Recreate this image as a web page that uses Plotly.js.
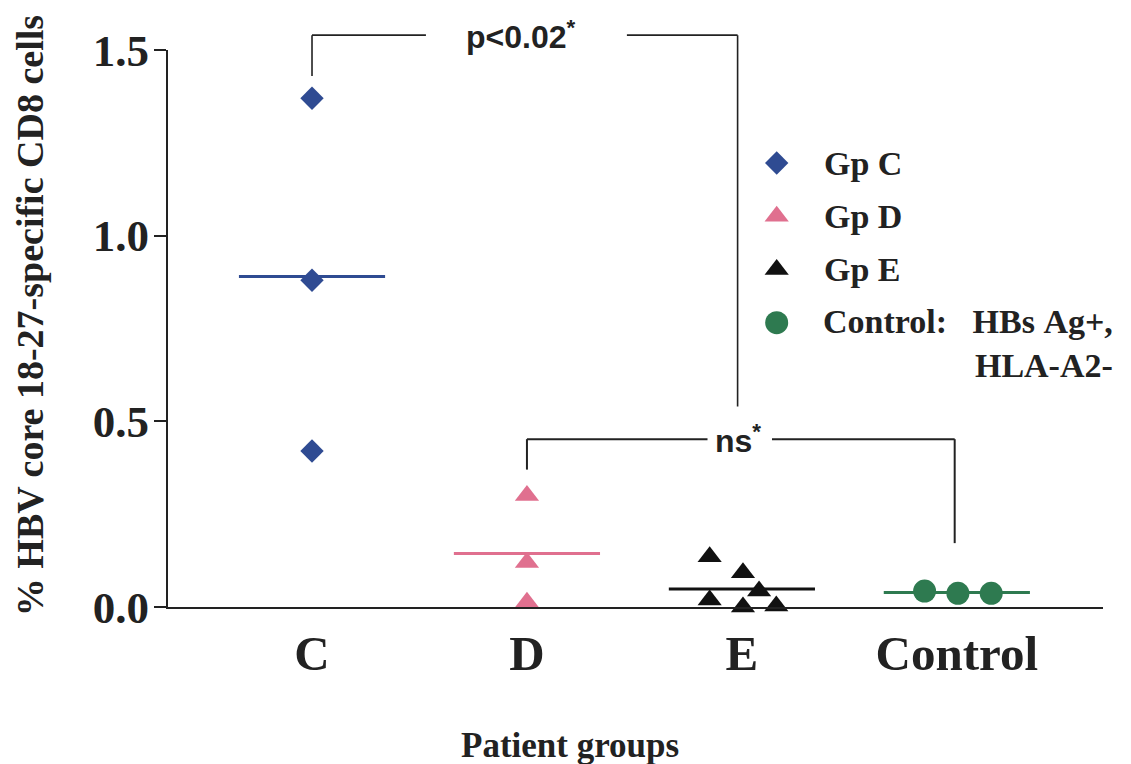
<!DOCTYPE html>
<html><head><meta charset="utf-8">
<script src="https://cdn.plot.ly/plotly-3.0.1.min.js"></script>
<style>html,body{margin:0;padding:0;background:#fff}#chart{width:1131px;height:764px}</style>
</head><body><div id="chart"></div>
<script>
// ---- data ----
const categories = ['C', 'D', 'E', 'Control'];
const legendNames = ['Gp&nbsp;C', 'Gp&nbsp;D', 'Gp&nbsp;E', 'Control:&nbsp;&nbsp; HBs&nbsp;Ag+,<br>HLA-A2-'];
const valuesC = [1.37, 0.88, 0.42];
const valuesD = [0.30, 0.12, 0.013];
const valuesE = [0.135, 0.092, 0.043, 0.019, 0.0, 0.003];
const valuesControl = [0.043, 0.037, 0.037];
// horizontal jitter of the dots within a group (category units)
const jitterC = [0, 0, 0];
const jitterD = [0, 0, 0];
const jitterE = [-0.15, 0.005, 0.08, -0.15, 0.005, 0.16];
const jitterControl = [-0.15, 0.005, 0.16];
const yTicks = [0, 0.5, 1.0, 1.5];
const yMax = 1.5;
const pTexts = ['p<0.02<sup>*</sup>', 'ns<sup>*</sup>'];

// ---- styles ----
const colors = ['#2F4B92', '#E0708F', '#111111', '#2E7A50'];
const symbols = ['diamond', 'triangle-up', 'triangle-up', 'circle'];
const sizes = [18, 21, 21, 23];
const halfWidth = 0.34;
const serif = 'Liberation Serif, Times New Roman, serif';
const sans = 'Liberation Sans, Arial, sans-serif';
const ink = '#222222';

const groups = [valuesC, valuesD, valuesE, valuesControl];
const jitters = [jitterC, jitterD, jitterE, jitterControl];
const mean = a => a.reduce((s, v) => s + v, 0) / a.length;

const traces = [];
groups.forEach((vals, i) => {
  const m = mean(vals);
  traces.push({
    x: [i - halfWidth, i + halfWidth], y: [m, m], mode: 'lines',
    line: {color: colors[i], width: 3}, showlegend: false, hoverinfo: 'skip'
  });
});
groups.forEach((vals, i) => {
  traces.push({
    x: vals.map((v, k) => i + jitters[i][k]), y: vals, mode: 'markers', name: categories[i],
    marker: {symbol: symbols[i], size: sizes[i], color: colors[i], opacity: 1, line: {width: 0}},
    cliponaxis: false, showlegend: false
  });
});
// legend keys on a hidden overlay subplot (row 0..3 top to bottom)
const legendRows = [0, 1, 2, 3];
legendRows.forEach(r => {
  traces.push({
    x: [0], y: [r], xaxis: 'x2', yaxis: 'y2', mode: 'markers',
    marker: {symbol: symbols[r], size: sizes[r], color: colors[r], opacity: 1, line: {width: 0}},
    cliponaxis: false, showlegend: false, hoverinfo: 'skip'
  });
});

// bracket helper
const yp = v => v / yMax;
function seg(x0, y0, x1, y1, w) {
  return {type: 'line', xref: 'x', yref: 'paper', x0: x0, x1: x1, y0: yp(y0), y1: yp(y1),
    line: {color: ink, width: w}};
}
const topY = 1.54, botY = 0.452;
const shapes = [
  seg(0, 1.43, 0, topY, 1.6),
  seg(0, topY, 0.53, topY, 1.6),
  seg(1.465, topY, 1.98, topY, 1.6),
  seg(1.98, topY, 1.98, 0.54, 1.6),
  seg(1.0, 0.37, 1.0, botY, 2),
  seg(1.0, botY, 1.84, botY, 2),
  seg(2.14, botY, 2.99, botY, 2),
  seg(2.99, botY, 2.99, 0.172, 2)
];

const legX = 0.6995;
const legTop = 0.797, legStep = 0.0955;
const legFont = {family: serif, size: 34, weight: 'bold', color: ink};
const annotations = [
  {text: pTexts[0], x: 0.97, xref: 'x', y: yp(topY), yref: 'paper', showarrow: false,
   font: {family: sans, size: 32, weight: 'bold', color: ink}, xanchor: 'center', yanchor: 'middle'},
  {text: pTexts[1], x: 1.98, xref: 'x', y: yp(botY), yref: 'paper', showarrow: false,
   font: {family: sans, size: 32, weight: 'bold', color: ink}, xanchor: 'center', yanchor: 'middle'},
  {text: '% HBV core 18-27-specific CD8 cells', x: -0.1476, y: 0.524, xref: 'paper', yref: 'paper',
   xanchor: 'center', yanchor: 'middle',
   textangle: -90, showarrow: false, font: {family: serif, size: 38, weight: 'bold', color: ink}},
  {text: 'Patient groups', x: 0.43, y: -0.2478, xref: 'paper', yref: 'paper', showarrow: false,
   xanchor: 'center', yanchor: 'middle',
   font: {family: serif, size: 35, weight: 'bold', color: ink}}
];
legendNames.forEach((n, i) => {
  if (i < 3) {
    annotations.push({text: n, x: legX, xanchor: 'left', y: legTop - legStep * i, yanchor: 'middle',
      xref: 'paper', yref: 'paper', showarrow: false, font: legFont});
  } else {
    annotations.push({text: n, x: 1.0128, xanchor: 'right', align: 'right',
      y: legTop - legStep * i + 0.0395, yanchor: 'top',
      xref: 'paper', yref: 'paper', showarrow: false, font: legFont});
  }
});

const layout = {
  width: 1131, height: 764,
  margin: {l: 168, r: 28, t: 50, b: 157},
  paper_bgcolor: '#fff', plot_bgcolor: '#fff',
  showlegend: false,
  xaxis: {
    range: [-0.67, 3.68], tickvals: [0, 1, 2, 3], ticktext: categories,
    showline: true, linecolor: ink, linewidth: 2, ticks: '', showgrid: false, zeroline: false,
    tickfont: {family: serif, size: 49, weight: 'bold', color: ink}, ticklabelstandoff: 2,
    fixedrange: true
  },
  yaxis: {
    range: [0, yMax], tickvals: yTicks, tickformat: '.1f',
    showline: true, linecolor: ink, linewidth: 2, ticks: 'outside', ticklen: 12, tickwidth: 2,
    tickcolor: ink, showgrid: false, zeroline: false, ticklabelstandoff: -4,
    tickfont: {family: serif, size: 45, weight: 'bold', color: ink}, fixedrange: true
  },
  xaxis2: {overlaying: 'x', range: [-0.651, 0.349], visible: false, showgrid: false, zeroline: false,
    showticklabels: false, fixedrange: true, anchor: 'y2'},
  yaxis2: {overlaying: 'y', range: [legTop / legStep, (legTop - 1) / legStep], visible: false,
    showgrid: false, zeroline: false, showticklabels: false, fixedrange: true, anchor: 'x2'},
  shapes: shapes,
  annotations: annotations
};

Plotly.newPlot('chart', traces, layout, {displayModeBar: false, staticPlot: true});
</script>
</body></html>
